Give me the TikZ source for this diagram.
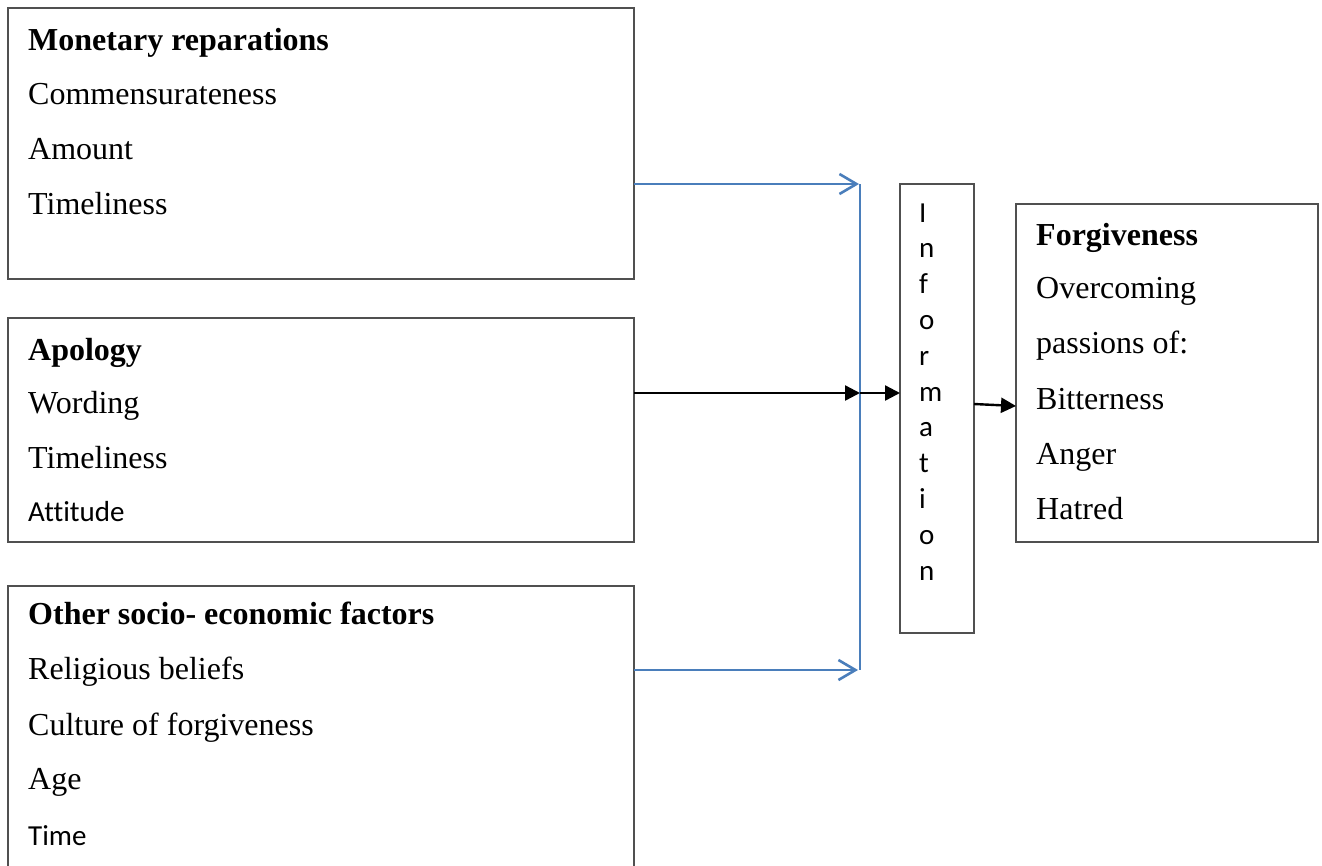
\documentclass[tikz,border=0pt]{standalone}
\usepackage{fontspec}
\setmainfont{Liberation Serif}
\newfontfamily\calib[Ligatures=NoCommon]{Carlito}
\usetikzlibrary{arrows.meta}
\definecolor{boxgray}{RGB}{80,80,80}
\definecolor{wordblue}{RGB}{74,126,187}
\begin{document}
\begin{tikzpicture}[x=1pt,y=-1pt,
  box/.style={draw=boxgray,line width=1.6pt,rectangle,inner sep=0pt,outer sep=0pt,anchor=north west},
  ser/.style={anchor=base west,inner sep=0pt,font=\fontsize{32}{38}\selectfont},
  serb/.style={ser,font=\fontsize{32}{38}\selectfont\bfseries},
  sans/.style={anchor=base west,inner sep=0pt,font=\calib\fontsize{29}{34}\selectfont},
  bluearrow/.style={draw=wordblue,line width=2.6pt,-{Straight Barb[length=17pt,width=20pt,line width=2.6pt]}},
  blueline/.style={draw=wordblue,line width=2.6pt},
  blkarrow/.style={draw=black,line width=2.4pt,-{Triangle[length=15pt,width=15pt]}}]
\useasboundingbox (0,0) rectangle (1322,865);
\fill[white] (0,0) rectangle (1322,865);

% boxes
\node[box,minimum width=626pt,minimum height=271pt] (mon) at (8,8) {};
\node[box,minimum width=626pt,minimum height=224pt] (apo) at (8,318) {};
\node[box,minimum width=626pt,minimum height=300pt] (oth) at (8,586) {};
\node[box,minimum width=74pt,minimum height=449pt] (info) at (900,184) {};
\node[box,minimum width=302pt,minimum height=338pt] (forg) at (1016,204) {};

% box 1 text
\node[serb] (m1) at (28,50) {Monetary reparations};
\node[ser] (m2) at (28,104) {Commensurateness};
\node[ser] (m3) at (28,159) {Amount};
\node[ser] (m4) at (28,214) {Timeliness};

% box 2 text
\node[serb] (a1) at (28,360) {Apology};
\node[ser] (a2) at (28,413) {Wording};
\node[ser] (a3) at (28,468) {Timeliness};
\node[sans] (a4) at (28,521) {Attitude};

% box 3 text
\node[serb] (o1) at (28,624) {Other socio- economic factors};
\node[ser] (o2) at (28,679) {Religious beliefs};
\node[ser] (o3) at (28,735) {Culture of forgiveness};
\node[ser] (o4) at (28,789) {Age};
\node[sans] (o5) at (28,845) {Time};

% forgiveness text
\node[serb] (f1) at (1036,245) {Forgiveness};
\node[ser] (f2) at (1036,298) {Overcoming};
\node[ser] (f3) at (1036,353) {passions of:};
\node[ser] (f4) at (1036,409) {Bitterness};
\node[ser] (f5) at (1036,464) {Anger};
\node[ser] (f6) at (1036,519) {Hatred};

% information letters
\foreach \ch [count=\i] in {I,n,f,o,r,m,a,t,i,o,n}
  \node[sans] (inf\i) at (919,{222+35.8*(\i-1)}) {\ch};

% connectors
\coordinate (j1) at (860,184);
\coordinate (j2) at (860,393);
\coordinate (j3) at (860,670);
\coordinate (j1e) at (859,184);
\coordinate (j3e) at (858,670);
\coordinate (s1) at (974,404);
\coordinate (e1) at (1016,406);

\draw[bluearrow] (mon.east |- j1) -- (j1e);
\draw[blueline] (j1) -- (j3);
\draw[bluearrow] (oth.east |- j3) -- (j3e);
\draw[blkarrow] (apo.east |- j2) -- (j2);
\draw[blkarrow] (j2) -- (info.west |- j2);
\draw[blkarrow] (s1) -- (e1);
\end{tikzpicture}
\end{document}
